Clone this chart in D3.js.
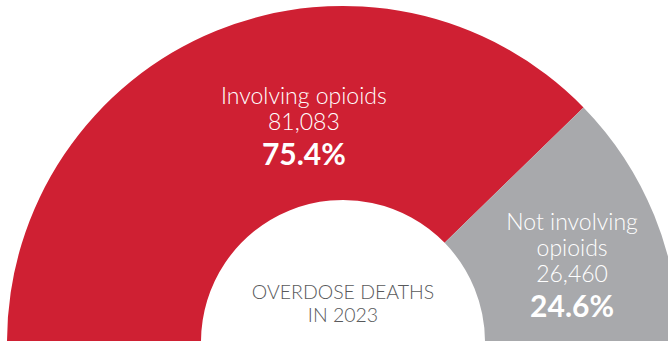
<!DOCTYPE html>
<html>
<head>
<meta charset="utf-8">
<script src="https://cdn.jsdelivr.net/npm/d3@7"></script>
<style>
	body { margin: 0; background: #fff; }
	#chart { width: 668px; height: 341px; }
	svg { display: block; }
</style>
</head>
<body>
<div id="chart"></div>
<script>
// Data
const categories = ["Involving opioids", "Not involving opioids"];
const deaths = [81083, 26460];
const shares = [75.4, 24.6];
const centerTitle = ["OVERDOSE DEATHS", "IN 2023"];

// label line breaks per slice
const labelLines = [["Involving opioids"], ["Not involving", "opioids"]];

function overdoseHalfDonut(svg_name) {

	// General Variables
	const chart_width = 668;
	const chart_height = 341;
	const cx = 343, cy = 342;
	const outerR = 336, innerR = 142;
	const colors = ["#cf2033", "#a8a9ac"];

	let chart = d3.select(svg_name).append("svg")
		.attr("width", chart_width)
		.attr("height", chart_height);

	const g = chart.append("g")
		.attr("transform", "translate(" + cx + "," + cy + ")");

	// half pie from left to right
	let pie = d3.pie()
		.sort(null)
		.startAngle(-Math.PI / 2)
		.endAngle(Math.PI / 2);

	let arc = d3.arc()
		.innerRadius(innerR)
		.outerRadius(outerR);

	let slices = pie(deaths);

	g.selectAll("path")
		.data(slices).enter()
		.append("path")
		.attr("d", arc)
		.attr("fill", (d, i) => colors[i]);

	// label positions (angle in degrees from top, radius), hand placed like the original
	// top = offset of first baseline from that point
	const labelPos = [
		{ angle: -10.2, r: 221, top: -21 },
		{ angle: 71.9, r: 241, top: -37 }
	];

	slices.forEach(function (d, i) {
		let a = labelPos[i].angle * Math.PI / 180;
		let x = Math.sin(a) * labelPos[i].r;
		let y = -Math.cos(a) * labelPos[i].r;
		let lbl = g.append("text")
			.attr("text-anchor", "middle")
			.attr("fill", "#fff")
			.attr("font-family", "Lato, 'Open Sans', sans-serif");
		let yy = y + labelPos[i].top;
		labelLines[i].forEach(function (t) {
			lbl.append("tspan")
				.attr("x", x).attr("y", yy)
				.attr("font-size", 23).attr("font-weight", 300)
				.text(t);
			yy += 26;
		});
		lbl.append("tspan")
			.attr("x", x).attr("y", yy)
			.attr("font-size", 23).attr("font-weight", 300)
			.text(d3.format(",")(deaths[i]));
		lbl.append("tspan")
			.attr("x", x).attr("y", yy + 35)
			.attr("font-size", 30).attr("font-weight", 700)
			.text(shares[i].toFixed(1) + "%");
	});

	// centre title
	g.append("g").selectAll("text")
		.data(centerTitle).enter()
		.append("text")
		.attr("x", 0)
		.attr("y", (d, i) => -43 + i * 23)
		.attr("text-anchor", "middle")
		.attr("fill", "#58595b")
		.attr("font-family", "Lato, 'Open Sans', sans-serif")
		.attr("font-weight", 300)
		.attr("font-size", 19.5)
		.text(d => d);

	return { chart: chart, pie: pie, arc: arc };
}

overdoseHalfDonut("#chart");
</script>
</body>
</html>
